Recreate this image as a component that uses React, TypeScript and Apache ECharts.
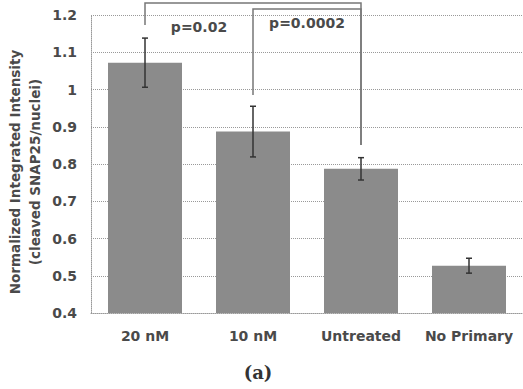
import React, { useEffect, useRef } from "react";
import * as echarts from "echarts";

const categories = ["20 nM", "10 nM", "Untreated", "No Primary"];
const values = [1.072, 0.887, 0.787, 0.527];
const errors = [0.066, 0.068, 0.03, 0.02];
const yTicks = [0.4, 0.5, 0.6, 0.7, 0.8, 0.9, 1.0, 1.1, 1.2];
const yAxisTitle = "Normalized Integrated Intensity\n(cleaved SNAP25/nuclei)";
// brackets: [fromIndex, toIndex, topValue, leftLegBottom, rightLegBottom]
const brackets = [
  [0, 2, 1.232, 1.173, 0.851],
  [1, 2, 1.216, 0.985, 0.851],
];
const pLabels = ["p=0.02", "p=0.0002"];
// label sits midway between two categories: [fromIndex, toIndex, yValue]
const pLabelPos = [
  [0, 1, 1.168],
  [1, 2, 1.179],
];
const caption = "(a)";

const TEXT_FONT = "'DejaVu Sans', Verdana, sans-serif";
const TEXT_COLOR = "#4a4a4a";

export default function App() {
  const ref = useRef<HTMLDivElement>(null);
  useEffect(() => {
    if (!ref.current) return;
    const chart = echarts.init(ref.current, undefined, { renderer: "svg" });
    chart.setOption({
      animation: false,
      backgroundColor: "#ffffff",
      grid: { left: 91, right: 0, top: 15, bottom: 76, containLabel: false, outerBoundsMode: "none" },
      xAxis: {
        type: "category",
        data: categories,
        axisLine: { show: true, lineStyle: { color: "#999", type: "dotted" } },
        axisTick: { show: false },
        axisLabel: {
          interval: 0,
          color: TEXT_COLOR,
          fontFamily: TEXT_FONT,
          fontSize: 14,
          fontWeight: "bold",
          margin: 16,
        },
      },
      yAxis: {
        type: "value",
        min: 0.4,
        max: 1.2,
        interval: 0.1,
        axisLine: { show: true, lineStyle: { color: "#999", type: "dotted" } },
        axisTick: { show: false },
        splitLine: { show: true, lineStyle: { color: "#999", type: "dotted" } },
        axisLabel: {
          color: TEXT_COLOR,
          fontFamily: TEXT_FONT,
          fontSize: 14,
          fontWeight: "bold",
          margin: 14,
          formatter: (v: number) => {
            const t = yTicks.find((y) => Math.abs(y - v) < 1e-6);
            return t === undefined ? "" : String(Number(t.toFixed(1)));
          },
        },
      },
      series: [
        {
          type: "bar",
          data: values,
          barWidth: 74,
          itemStyle: { color: "#8b8b8b" },
        },
        {
          type: "custom",
          data: values.map((v, i) => [i, v - errors[i], v + errors[i]]),
          z: 5,
          renderItem: (params: any, api: any) => {
            const i = api.value(0);
            const lo = api.coord([i, api.value(1)]);
            const hi = api.coord([i, api.value(2)]);
            const w = 3;
            const st = { stroke: "#333", lineWidth: 1.5 };
            return {
              type: "group",
              children: [
                { type: "line", shape: { x1: lo[0], y1: lo[1], x2: hi[0], y2: hi[1] }, style: st },
                { type: "line", shape: { x1: lo[0] - w, y1: lo[1], x2: lo[0] + w, y2: lo[1] }, style: st },
                { type: "line", shape: { x1: hi[0] - w, y1: hi[1], x2: hi[0] + w, y2: hi[1] }, style: st },
              ],
            };
          },
        },
        {
          type: "custom",
          data: brackets,
          z: 6,
          clip: false,
          renderItem: (params: any, api: any) => {
            const a = api.value(0);
            const b = api.value(1);
            const top = api.value(2);
            const l = api.value(3);
            const r = api.value(4);
            const p1 = api.coord([a, l]);
            const p2 = api.coord([a, top]);
            const p3 = api.coord([b, top]);
            const p4 = api.coord([b, r]);
            return {
              type: "polyline",
              shape: { points: [p1, p2, p3, p4] },
              style: { stroke: "#777", lineWidth: 1.5, fill: null },
            };
          },
        },
        {
          type: "custom",
          data: pLabelPos.map((p, i) => [p[0], p[1], p[2], i]),
          z: 7,
          clip: false,
          renderItem: (params: any, api: any) => {
            const pa = api.coord([api.value(0), api.value(2)]);
            const pb = api.coord([api.value(1), api.value(2)]);
            const idx = api.value(3);
            return {
              type: "text",
              x: (pa[0] + pb[0]) / 2,
              y: pa[1],
              style: {
                text: pLabels[idx],
                fill: TEXT_COLOR,
                font: `bold 14px ${TEXT_FONT}`,
                align: "center",
                verticalAlign: "middle",
              },
            };
          },
        },
      ],
      graphic: [
        {
          type: "text",
          x: 25,
          y: 172,
          rotation: Math.PI / 2,
          style: {
            text: yAxisTitle,
            fill: TEXT_COLOR,
            font: `bold 13.5px ${TEXT_FONT}`,
            lineHeight: 20,
            align: "center",
            verticalAlign: "middle",
          },
        },
        {
          type: "text",
          x: 258,
          y: 372,
          style: {
            text: caption,
            fill: "#333",
            font: "bold 18px 'DejaVu Serif', 'Liberation Serif', serif",
            align: "center",
            verticalAlign: "middle",
          },
        },
      ],
    });
    return () => chart.dispose();
  }, []);
  return (
    <div
      ref={ref}
      style={{ position: "absolute", left: 0, top: 0, width: 523, height: 389 }}
    />
  );
}
